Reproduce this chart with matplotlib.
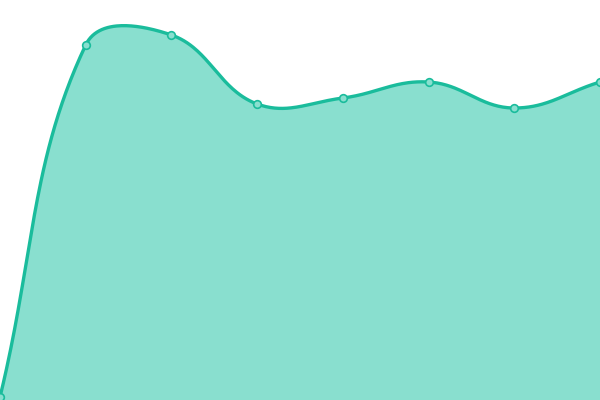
import numpy as np
import matplotlib
matplotlib.use("Agg")
import matplotlib.pyplot as plt

# data (index -> value, axis 0..400)
idx = [0, 1, 2, 3, 4, 5, 6, 7]
vals = [3, 355, 365, 296, 302, 318, 292, 318]

LINE = "#1abc9c"
FILL = "#89dfcf"
W, H = 600, 400


def smooth(xs, ys, tension=0.4, n=60):
    # spline with control points like chart.js (worked in pixel space)
    px = np.asarray(xs, float) * W / (len(xs) - 1)
    py = np.asarray(ys, float)
    m = len(px)
    cin, cout = [], []
    for i in range(m):
        p0 = (px[max(i - 1, 0)], py[max(i - 1, 0)])
        p2 = (px[min(i + 1, m - 1)], py[min(i + 1, m - 1)])
        d01 = np.hypot(px[i] - p0[0], py[i] - p0[1])
        d12 = np.hypot(p2[0] - px[i], p2[1] - py[i])
        tot = d01 + d12
        s01 = d01 / tot if tot else 0
        s12 = d12 / tot if tot else 0
        vx, vy = p2[0] - p0[0], p2[1] - p0[1]
        cin.append((px[i] - tension * s01 * vx, py[i] - tension * s01 * vy))
        cout.append((px[i] + tension * s12 * vx, py[i] + tension * s12 * vy))
    ox, oy = [], []
    t = np.linspace(0, 1, n)
    for i in range(m - 1):
        a, b = (px[i], py[i]), (px[i + 1], py[i + 1])
        c1, c2 = cout[i], cin[i + 1]
        ox.extend((1 - t) ** 3 * a[0] + 3 * (1 - t) ** 2 * t * c1[0] + 3 * (1 - t) * t ** 2 * c2[0] + t ** 3 * b[0])
        oy.extend((1 - t) ** 3 * a[1] + 3 * (1 - t) ** 2 * t * c1[1] + 3 * (1 - t) * t ** 2 * c2[1] + t ** 3 * b[1])
    return np.array(ox) * (len(xs) - 1) / W, np.array(oy)


fig = plt.figure(figsize=(6, 4), dpi=100)
ax = fig.add_axes([0, 0, 1, 1])
sx, sy = smooth(idx, vals)
ax.fill_between(sx, 0, sy, color=FILL, lw=0)
ax.plot(sx, sy, color=LINE, lw=2.4, solid_capstyle="round")
ax.plot(idx, vals, "o", ms=5.5, mfc=FILL, mec=LINE, mew=1.2, ls="none")
ax.set_xlim(0, 7)
ax.set_ylim(0, 400)
ax.axis("off")
fig.savefig("out.png", dpi=100)
